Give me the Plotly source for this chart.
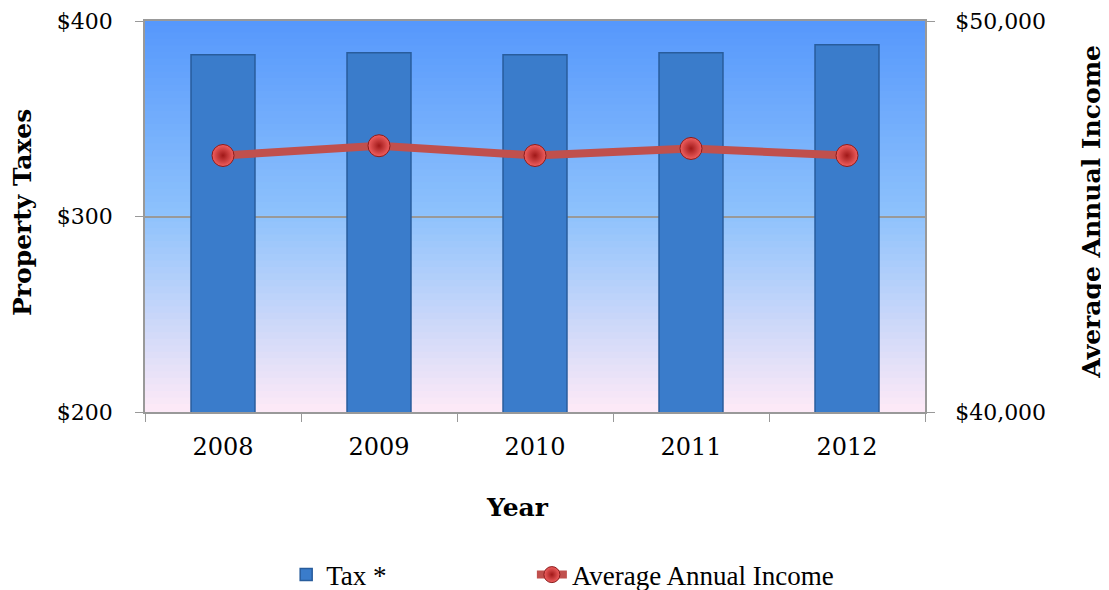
import plotly.graph_objects as go

years = ["2008", "2009", "2010", "2011", "2012"]
tax = [382.8, 383.7, 382.8, 383.7, 387.9]
income = [46560, 46810, 46560, 46740, 46560]
tax_ticks = [200, 300, 400]
tax_labels = ["$200", "$300", "$400"]
income_ticks = [40000, 50000]
income_labels = ["$40,000", "$50,000"]

SERIF = "Liberation Serif, Times New Roman, serif"
WIDE_SERIF = "DejaVu Serif, Georgia, serif"
AXIS_GREY = "#999999"


def _mix(c1, c2, t):
    return "rgb(%d,%d,%d)" % tuple(round(a + (b - a) * t) for a, b in zip(c1, c2))


fig = go.Figure()

fig.add_trace(go.Bar(
    x=years, y=tax,
    name="Tax *",
    marker=dict(color="#3A7CCB", line=dict(color="#285C9C", width=1.5)),
    yaxis="y",
    legend="legend",
))

fig.add_trace(go.Scatter(
    x=years, y=income,
    name="Average Annual Income",
    mode="lines+markers",
    line=dict(color="#C0504D", width=8),
    marker=dict(
        size=22, color="#F06060",
        gradient=dict(type="radial", color="#A01818"),
        line=dict(color="#8A1C1C", width=1),
    ),
    yaxis="y2",
    legend="legend2",
))

# vertical gradient background of the plot area
top, mid, bot = (86, 152, 252), (142, 194, 252), (252, 233, 247)
n = 60
shapes = []
for i in range(n):
    t = i / (n - 1)
    c = _mix(top, mid, t / 0.5) if t < 0.5 else _mix(mid, bot, (t - 0.5) / 0.5)
    shapes.append(dict(
        type="rect", xref="x domain", yref="y domain",
        x0=0, x1=1, y1=min(1, 1 - i / n + 0.004), y0=max(0, 1 - (i + 1) / n),
        fillcolor=c, line=dict(width=0), layer="below",
    ))

title_font = dict(family=WIDE_SERIF, size=25, color="black")
annotations = [
    dict(text="<b>Property Taxes</b>", xref="paper", yref="paper", x=-0.158, y=0.511,
         textangle=-90, showarrow=False, font=title_font, xanchor="center", yanchor="middle"),
    dict(text="<b>Average Annual Income</b>", xref="paper", yref="paper", x=1.2135, y=0.511,
         textangle=-90, showarrow=False, font=title_font, xanchor="center", yanchor="middle"),
    dict(text="<b>Year</b>", xref="paper", yref="paper", x=0.478, y=-0.2455,
         showarrow=False, font=title_font, xanchor="center", yanchor="middle"),
]

legend_common = dict(
    orientation="h", y=-0.417, yanchor="middle",
    font=dict(family=SERIF, size=27, color="black"), bgcolor="rgba(0,0,0,0)",
)

fig.update_layout(
    width=1101, height=582,
    paper_bgcolor="white",
    plot_bgcolor="white",
    font=dict(family=WIDE_SERIF, color="black", size=21),
    margin=dict(l=137, r=184, t=13, b=178, autoexpand=False),
    bargap=0.59,
    showlegend=True,
    legend=dict(x=0.181, xanchor="left", **legend_common),
    legend2=dict(x=0.496, xanchor="left", **legend_common),
    shapes=shapes,
    annotations=annotations,
    xaxis=dict(
        automargin=False,
        showline=True, linecolor=AXIS_GREY, linewidth=1.5, mirror=True,
        ticks="outside", tickson="boundaries", ticklen=8, tickcolor=AXIS_GREY,
        tickfont=dict(size=24), ticklabelstandoff=12,
        showgrid=False,
    ),
    yaxis=dict(
        automargin=False,
        range=[200, 400], tickvals=tax_ticks, ticktext=tax_labels,
        showline=True, linecolor=AXIS_GREY, linewidth=1.5,
        ticks="outside", ticklen=8, tickcolor=AXIS_GREY,
        gridcolor=AXIS_GREY, gridwidth=1.5, zeroline=False,
        tickfont=dict(size=22), ticklabelstandoff=18, ticklabeloverflow="allow",
    ),
    yaxis2=dict(
        automargin=False,
        overlaying="y", side="right",
        range=[40000, 50000], tickvals=income_ticks, ticktext=income_labels,
        showline=True, linecolor=AXIS_GREY, linewidth=1.5,
        ticks="outside", ticklen=8, tickcolor=AXIS_GREY,
        showgrid=False, zeroline=False,
        tickfont=dict(size=22), ticklabelstandoff=16, ticklabeloverflow="allow",
    ),
)

fig.write_html("out.html")
